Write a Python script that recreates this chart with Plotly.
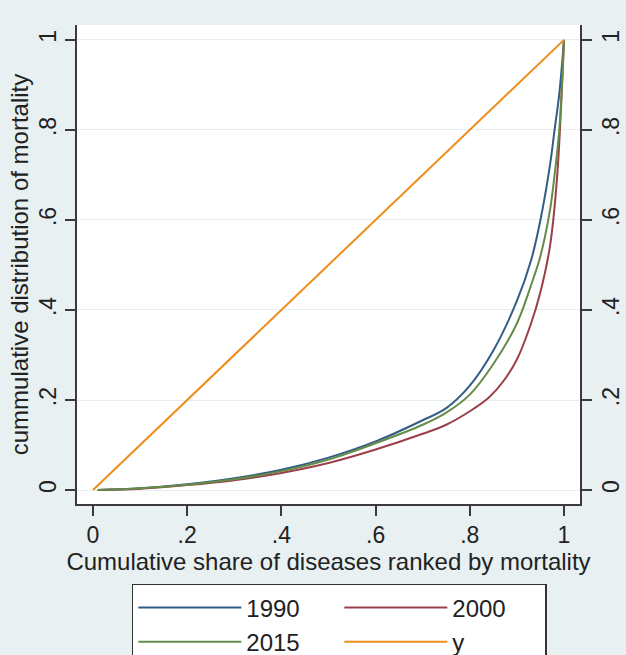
import plotly.graph_objects as go

# ---- data ----
x_share = [0.01, 0.1, 0.2, 0.3, 0.4, 0.5, 0.6, 0.7, 0.75, 0.8, 0.85, 0.9, 0.93, 0.95, 0.97, 0.98, 0.99, 1.0]
y_1990 = [0.0, 0.004, 0.013, 0.026, 0.045, 0.072, 0.108, 0.155, 0.182, 0.232, 0.31, 0.42, 0.51, 0.60, 0.72, 0.80, 0.88, 1.0]
y_2015 = [0.0, 0.004, 0.012, 0.024, 0.042, 0.068, 0.104, 0.145, 0.172, 0.212, 0.28, 0.37, 0.455, 0.52, 0.62, 0.70, 0.80, 1.0]
x_2000 = [0.01, 0.1, 0.2, 0.3, 0.4, 0.5, 0.6, 0.7, 0.75, 0.8, 0.84, 0.87, 0.9, 0.93, 0.95, 0.97, 0.985, 1.0]
y_2000 = [0.0, 0.003, 0.011, 0.022, 0.038, 0.06, 0.09, 0.125, 0.145, 0.175, 0.205, 0.24, 0.29, 0.37, 0.44, 0.54, 0.69, 1.0]
x_eq = [0, 1]
y_eq = [0, 1]

tick_vals = [0, 0.2, 0.4, 0.6, 0.8, 1]
tick_text = ["0", ".2", ".4", ".6", ".8", "1"]

names = ["1990", "2000", "2015", "y"]
colors = ["#335d86", "#9c3f4a", "#648b47", "#ef8c1c"]

FONT = "Arial, Liberation Sans, sans-serif"
DARK = "#222222"
AXLINE = "#3a3a3a"

fig = go.Figure()
series = [(x_share, y_1990, "y"), (x_2000, y_2000, "y"), (x_share, y_2015, "y"), (x_eq, y_eq, "y2")]
for (xs, ys, ax), nm, c in zip(series, names, colors):
    fig.add_trace(go.Scatter(x=xs, y=ys, mode="lines", name=nm, yaxis=ax,
                             line=dict(color=c, width=2), line_shape="spline"))

xr = [-0.034, 1.034]
yr = [-0.031, 1.033]

axis_common = dict(zeroline=False, showline=True, linecolor=AXLINE, linewidth=1.5,
                   ticks="outside", ticklen=10, tickwidth=1.5, tickcolor=AXLINE,
                   tickfont=dict(size=23))

fig.update_layout(
    width=626, height=655,
    margin=dict(l=77, r=46, t=25, b=151, autoexpand=False),
    paper_bgcolor="#e8f0f2",
    plot_bgcolor="#ffffff",
    font=dict(family=FONT, size=22, color=DARK),
    xaxis=dict(range=xr, tickvals=tick_vals, ticktext=tick_text, showgrid=False,
               title=dict(text="Cumulative share of diseases ranked by mortality",
                          font=dict(size=24), standoff=0),
               **axis_common),
    yaxis=dict(range=yr, tickvals=tick_vals, ticktext=tick_text,
               showgrid=True, gridcolor="#e6eef0", gridwidth=1, tickangle=-90,
               title=dict(text="cummulative distribution of mortality",
                          font=dict(size=24), standoff=0),
               **axis_common),
    yaxis2=dict(range=yr, tickvals=tick_vals, ticktext=tick_text,
                overlaying="y", side="right", showgrid=False, tickangle=-90,
                **axis_common),
    legend=dict(orientation="h", x=0.109, xanchor="left", y=-0.167, yanchor="top",
                bgcolor="#ffffff", bordercolor="#333333", borderwidth=1.5,
                font=dict(size=24, color=DARK),
                entrywidth=88, entrywidthmode="pixels", itemwidth=103,
                traceorder="normal"),
    showlegend=True,
)

fig.write_html("out.html")
